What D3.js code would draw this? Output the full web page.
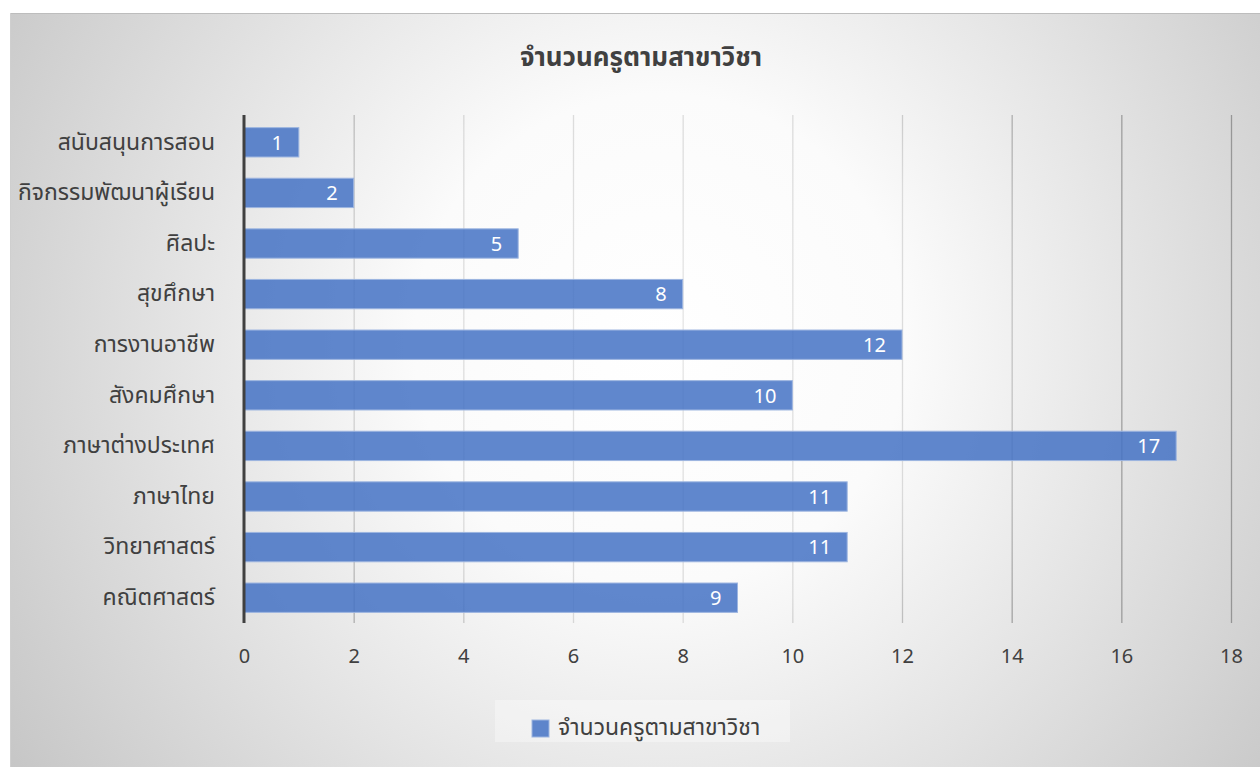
<!DOCTYPE html>
<html>
<head>
<meta charset="utf-8">
<script src="https://cdn.jsdelivr.net/npm/d3@7"></script>
<style>
  body { margin: 0; background: #fff; }
  text { font-family: "Noto Sans Thai", "Noto Sans", "Open Sans", sans-serif; }
</style>
</head>
<body>
<div class="canvas"></div>
<script>
// data
const categories = ['สนับสนุนการสอน', 'กิจกรรมพัฒนาผู้เรียน', 'ศิลปะ', 'สุขศึกษา', 'การงานอาชีพ',
  'สังคมศึกษา', 'ภาษาต่างประเทศ', 'ภาษาไทย', 'วิทยาศาสตร์', 'คณิตศาสตร์'];
const values = [1, 2, 5, 8, 12, 10, 17, 11, 11, 9];
const xTicks = [0, 2, 4, 6, 8, 10, 12, 14, 16, 18];
const title = 'จำนวนครูตามสาขาวิชา';

const W = 1260, H = 767;
const svg = d3.select('.canvas').append('svg').attr('width', W).attr('height', H);

// background gradient (white middle, grey edges)
const defs = svg.append('defs');
const grad = defs.append('radialGradient').attr('id', 'bg')
  .attr('gradientUnits', 'userSpaceOnUse')
  .attr('cx', 660).attr('cy', 340).attr('r', 820);
grad.append('stop').attr('offset', '0%').attr('stop-color', '#ffffff');
grad.append('stop').attr('offset', '30%').attr('stop-color', '#fbfbfb');
grad.append('stop').attr('offset', '100%').attr('stop-color', '#c2c2c2');

// gridlines get lighter near the middle too
const gGrad = defs.append('radialGradient').attr('id', 'grid')
  .attr('gradientUnits', 'userSpaceOnUse')
  .attr('cx', 660).attr('cy', 340).attr('r', 820);
gGrad.append('stop').attr('offset', '0%').attr('stop-color', '#e6e6e6');
gGrad.append('stop').attr('offset', '35%').attr('stop-color', '#dadada');
gGrad.append('stop').attr('offset', '55%').attr('stop-color', '#a2a2a2');
gGrad.append('stop').attr('offset', '100%').attr('stop-color', '#888888');

svg.append('rect').attr('x', 10).attr('y', 13).attr('width', W - 10).attr('height', H - 13)
  .attr('fill', 'url(#bg)');
svg.append('line').attr('x1', 10).attr('x2', W).attr('y1', 13.5).attr('y2', 13.5)
  .attr('stroke', '#bdbdbd');
svg.append('line').attr('x1', 10.5).attr('x2', 10.5).attr('y1', 13).attr('y2', H)
  .attr('stroke', '#cfcfcf');

// title
svg.append('text').attr('x', 641).attr('y', 66).attr('text-anchor', 'middle')
  .attr('fill', '#404040').style('font-size', '26px').style('font-weight', 'bold')
  .text(title);

const x = d3.scaleLinear().domain([0, 18]).range([244, 1231]);
const y = d3.scaleBand().domain(categories).range([117, 623]).paddingInner(0.42).paddingOuter(0.21);

// gridlines
svg.append('g').selectAll('line').data(xTicks.slice(1)).join('line')
  .attr('x1', d => x(d) + 0.5).attr('x2', d => x(d) + 0.5)
  .attr('y1', 115).attr('y2', 623)
  .attr('stroke', 'url(#grid)').attr('stroke-width', 1.3);

// bars
svg.append('g').selectAll('rect').data(values).join('rect')
  .attr('x', x(0)).attr('y', (d, i) => y(categories[i]))
  .attr('width', d => x(d) - x(0)).attr('height', y.bandwidth())
  .attr('fill', '#4472c4').attr('fill-opacity', 0.85)
  .attr('stroke', '#9db5e0').attr('stroke-width', 1);

// bar labels
svg.append('g').selectAll('text').data(values).join('text')
  .attr('x', d => x(d) - 16).attr('y', (d, i) => y(categories[i]) + y.bandwidth() / 2)
  .attr('dy', '0.36em').attr('text-anchor', 'end')
  .attr('fill', '#fff').style('font-size', '20px')
  .text(d => d);

// y axis
const yAxis = svg.append('g').attr('transform', `translate(${x(0)},0)`)
  .call(d3.axisLeft(y).tickSize(0).tickPadding(29));
yAxis.select('.domain').remove();
yAxis.selectAll('text').attr('fill', '#404040').style('font-size', '23px');
svg.append('line').attr('x1', x(0)).attr('x2', x(0)).attr('y1', 115).attr('y2', 623)
  .attr('stroke', '#404040').attr('stroke-width', 3);

// x axis labels
const xAxis = svg.append('g').attr('transform', 'translate(0,623)')
  .call(d3.axisBottom(x).tickValues(xTicks).tickSize(0).tickPadding(26));
xAxis.select('.domain').remove();
xAxis.selectAll('text').attr('fill', '#404040').style('font-size', '20px');

// legend
const lg = svg.append('g');
lg.append('rect').attr('x', 495).attr('y', 700).attr('width', 295).attr('height', 42)
  .attr('fill', '#ffffff').attr('fill-opacity', 0.35);
lg.append('rect').attr('x', 532).attr('y', 720).attr('width', 17).attr('height', 17)
  .attr('fill', '#4472c4').attr('fill-opacity', 0.85).attr('stroke', '#9db5e0');
lg.append('text').attr('x', 558).attr('y', 727).attr('dy', '0.36em')
  .attr('fill', '#404040').style('font-size', '23px').text(title);
</script>
</body>
</html>
